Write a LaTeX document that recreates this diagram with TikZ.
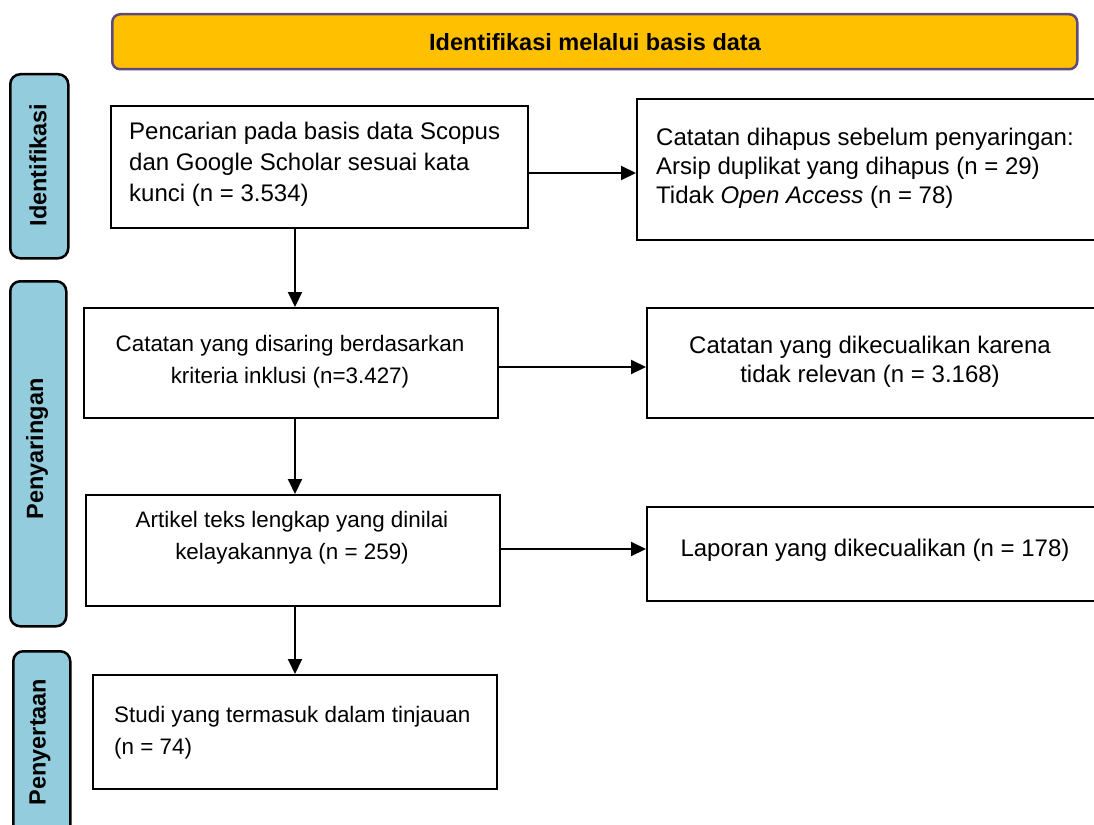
\documentclass[tikz,border=0pt]{standalone}
\usepackage{fontspec}
\setmainfont{Liberation Sans}
\usetikzlibrary{arrows.meta}
\definecolor{bannerfill}{HTML}{FFC000}
\definecolor{bannerline}{HTML}{5F497A}
\definecolor{phasefill}{HTML}{93CDDD}
\begin{document}
\begin{tikzpicture}[x=1pt,y=-1pt,
  box/.style={draw=black, line width=2pt, fill=white, anchor=north west, inner sep=0pt},
  txt/.style={font=\fontsize{24}{31}\selectfont, inner sep=0pt},
  smalltxt/.style={font=\fontsize{22.4}{32}\selectfont, inner sep=0pt},
  phase/.style={draw=black, line width=2.5pt, fill=phasefill, rounded corners=10pt, anchor=north west, inner sep=0pt},
  phasetxt/.style={rotate=90, font=\fontsize{23.5}{28}\selectfont\bfseries, inner sep=0pt},
  arr/.style={line width=2pt, -{Triangle[length=15pt,width=14pt]}}]
\useasboundingbox (0,0) rectangle (1094,824);
\clip (0,0) rectangle (1094,824);
% banner
\node[draw=bannerline, line width=2.5pt, fill=bannerfill, rounded corners=8pt, anchor=north west,
      minimum width=965pt, minimum height=55pt, inner sep=0pt] (banner) at (111,13) {};
\node[font=\fontsize{23.5}{28}\selectfont\bfseries, inner sep=0pt] (bannertxt) at (595,42) {Identifikasi melalui basis data};
% phase labels
\node[phase, minimum width=58pt, minimum height=184pt] (ph1) at (9,73) {};
\node[phasetxt] (ph1t) at (38,165) {Identifikasi};
\node[phase, minimum width=56pt, minimum height=345pt] (ph2) at (9,280) {};
\node[phasetxt] (ph2t) at (37,449) {Penyaringan};
\node[phase, minimum width=57pt, minimum height=190pt] (ph3) at (12,650) {};
\node[phasetxt] (ph3t) at (40,742) {Penyertaan};
% left column boxes
\node[box, minimum width=417pt, minimum height=122pt] (b1) at (110,105) {};
\node[txt, align=left, anchor=west] (t1) at (129,164) {Pencarian pada basis data Scopus\\dan Google Scholar sesuai kata\\kunci (n = 3.534)};
\node[box, minimum width=414pt, minimum height=110pt] (b2) at (83,307) {};
\node[smalltxt, align=center] (t2) at (290,362) {Catatan yang disaring berdasarkan\\kriteria inklusi (n=3.427)};
\node[box, minimum width=414pt, minimum height=111pt] (b3) at (85,494) {};
\node[smalltxt, align=center] (t3) at (292,538) {Artikel teks lengkap yang dinilai\\kelayakannya (n = 259)};
\node[box, minimum width=404pt, minimum height=114pt] (b4) at (92,674) {};
\node[smalltxt, align=left, anchor=west] (t4) at (114,733) {Studi yang termasuk dalam tinjauan\\(n = 74)};
% right column boxes
\node[box, minimum width=480pt, minimum height=141pt] (r1) at (636,98) {};
\node[txt, font=\fontsize{24}{29}\selectfont, align=left, anchor=west] (tr1) at (656,168) {Catatan dihapus sebelum penyaringan:\\Arsip duplikat yang dihapus (n = 29)\\Tidak \textit{Open Access} (n = 78)};
\node[box, minimum width=470pt, minimum height=110pt] (r2) at (646,307) {};
\node[txt, font=\fontsize{24}{29}\selectfont, align=center] (tr2) at (870,362) {Catatan yang dikecualikan karena\\tidak relevan (n = 3.168)};
\node[box, minimum width=470pt, minimum height=94pt] (r3) at (646,506) {};
\node[txt] (tr3) at (875,550) {Laporan yang dikecualikan (n = 178)};
% connectors
\coordinate (ax) at (295,0);
\coordinate (ay1) at (0,173);
\coordinate (ay2) at (0,367);
\coordinate (ay3) at (0,549);
\draw[arr] (b1.south -| ax) -- (b2.north -| ax);
\draw[arr] (b2.south -| ax) -- (b3.north -| ax);
\draw[arr] (b3.south -| ax) -- (b4.north -| ax);
\draw[arr] (b1.east |- ay1) -- (r1.west |- ay1);
\draw[arr] (b2.east |- ay2) -- (r2.west |- ay2);
\draw[arr] (b3.east |- ay3) -- (r3.west |- ay3);
\end{tikzpicture}
\end{document}
